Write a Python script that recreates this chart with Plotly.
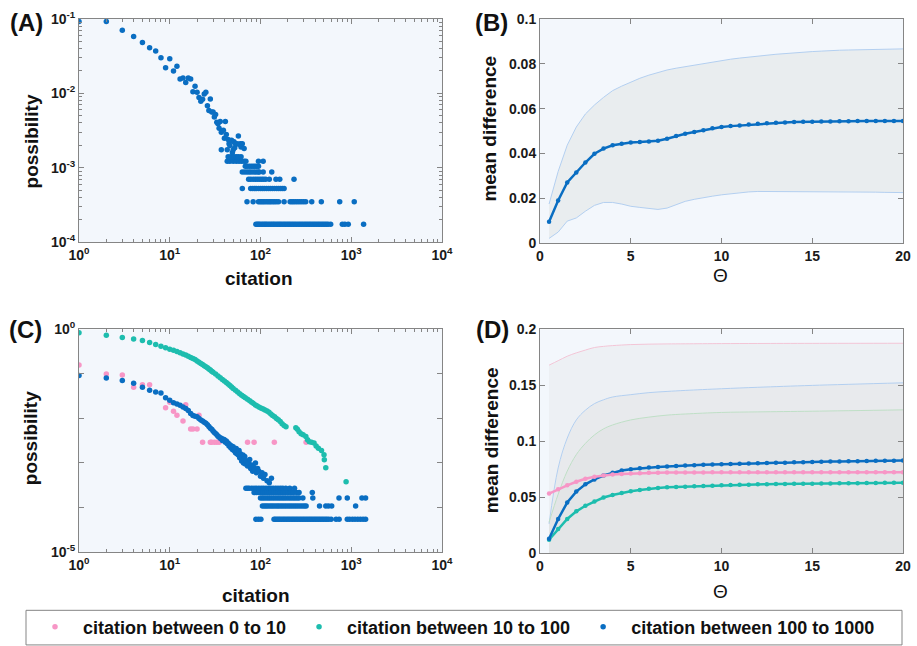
import plotly.graph_objects as go

# ---------------- data ----------------
# Panel A: citation distribution (probability), upper noisy part
a_cit = [1, 2, 3, 4, 5, 6, 7, 8, 9, 10, 11, 12, 13, 14, 15, 16, 17, 18, 19, 20,
         21, 22, 23, 24, 25, 26, 27, 28, 29, 30, 31, 32, 33, 34, 35, 36, 37, 39, 40,
         41, 42, 44, 45, 46, 48, 49, 51, 52, 53, 55, 57, 58, 60, 61, 63, 66]
a_prob = [0.092, 0.092, 0.070, 0.058, 0.048, 0.041, 0.037, 0.030, 0.022, 0.029,
          0.020, 0.023, 0.0155, 0.016, 0.014, 0.016, 0.0155, 0.0105, 0.0124, 0.0103,
          0.0088, 0.0078, 0.0083, 0.0098, 0.0103, 0.0068, 0.0059, 0.0084, 0.0056, 0.0056,
          0.0048, 0.0052, 0.0041, 0.0039, 0.0034, 0.0042, 0.0030, 0.0032, 0.0025,
          0.0042, 0.0028, 0.0024, 0.0021, 0.0020, 0.00234, 0.0016, 0.00224, 0.00186,
          0.0021, 0.0021, 0.00268, 0.00207, 0.0021, 0.0019, 0.0021, 0.00182]
# Panel A: low-count rows (count / total)
a_total = 5700
a_row_counts = [1, 2, 3, 4, 5, 6, 7, 8, 10]
a_row_cits = [
    [89, 92, 95, 98, 102, 106, 110, 114, 118, 123, 128, 133, 138, 143, 149, 155, 161,
     167, 174, 181, 188, 196, 204, 212, 221, 230, 240, 250, 261, 272, 284, 296, 309,
     322, 336, 350, 365, 381, 397, 414, 432, 450, 470, 490, 511, 533, 556, 593, 797,
     850, 927, 1368],
    [71, 83, 95, 99, 103, 107, 111, 116, 121, 126, 131, 137, 143, 150, 158, 182, 212,
     222, 232, 243, 255, 268, 282, 298, 315, 367, 468, 746, 1079],
    [63, 78, 82, 86, 90, 95, 100, 105, 110, 116, 122, 128, 135, 142, 150, 158, 166,
     174, 182],
    [74, 78, 83, 88, 93, 98, 103, 108, 114, 125, 148, 163, 234],
    [63, 67, 71, 75, 79, 84, 89, 94, 97, 107, 133],
    [68, 71, 75, 79, 83, 87, 91, 95],
    [43, 46, 50, 54, 58, 62, 66, 69, 95, 107],
    [44, 47, 51, 54, 57, 61],
    [37, 43, 50],
]

# Panel B: mean difference vs Theta
theta = [0.5, 1, 1.5, 2, 2.5, 3, 3.5, 4, 4.5, 5, 5.5, 6, 6.5, 7, 7.5, 8, 8.5, 9, 9.5, 10,
         10.5, 11, 11.5, 12, 12.5, 13, 13.5, 14, 14.5, 15, 15.5, 16, 16.5, 17, 17.5, 18,
         18.5, 19, 19.5, 20]
b_mean = [0.0096, 0.0191, 0.0271, 0.0316, 0.0360, 0.0399, 0.0422, 0.0437, 0.0444, 0.0449,
          0.0451, 0.0454, 0.0457, 0.0466, 0.0478, 0.0488, 0.0496, 0.0504, 0.0512, 0.0518,
          0.0522, 0.0525, 0.0529, 0.0532, 0.0535, 0.0537, 0.0538, 0.0540, 0.0541, 0.0542,
          0.0543, 0.0543, 0.0544, 0.0544, 0.0545, 0.0545, 0.0545, 0.0545, 0.0545, 0.0545]
b_upper = [0.0175, 0.032, 0.0437, 0.0518, 0.0576, 0.0616, 0.065, 0.068, 0.070, 0.0719,
           0.0735, 0.0749, 0.0761, 0.0772, 0.0780, 0.0787, 0.0794, 0.0800, 0.0808, 0.0815,
           0.0820, 0.0825, 0.0830, 0.0834, 0.0838, 0.0842, 0.0845, 0.0849, 0.0851, 0.0854,
           0.0856, 0.0859, 0.0860, 0.0861, 0.0862, 0.0863, 0.0864, 0.0865, 0.0866, 0.0866]
b_lower = [0.0022, 0.0050, 0.0099, 0.0113, 0.0143, 0.0169, 0.0182, 0.0182, 0.0175, 0.0165,
           0.0160, 0.0157, 0.0151, 0.0157, 0.0172, 0.0187, 0.0196, 0.0204, 0.0210, 0.0216,
           0.0221, 0.0226, 0.0229, 0.0231, 0.0231, 0.0231, 0.0231, 0.0231, 0.0231, 0.0231,
           0.0231, 0.0231, 0.0230, 0.0230, 0.0229, 0.0229, 0.0228, 0.0227, 0.0226, 0.0226]

# Panel C: distributions by citation group
c_pink_cit = [1, 2, 3, 4, 5, 6, 9, 10, 11, 12, 14, 15, 17, 18, 20, 21, 23, 28, 29, 31, 33,
              35, 72, 85, 142, 318]
c_pink_prob = [0.158, 0.100, 0.095, 0.050, 0.057, 0.057, 0.0174, 0.0232, 0.0145, 0.0118,
               0.0087, 0.0204, 0.0058, 0.0058, 0.0058, 0.0118, 0.0029, 0.0029, 0.0029,
               0.0029, 0.0029, 0.0029, 0.0029, 0.0029, 0.0029, 0.0029]
c_green_cit = [1, 2, 3, 4, 5, 6, 7, 8, 9, 10, 11, 12, 13, 14, 15, 16, 17, 18, 19, 20, 21,
               22, 23, 24, 25, 26, 27, 28, 29, 30, 32, 34, 36, 38, 40, 42, 44, 46, 48, 50,
               53, 56, 59, 62, 65, 68, 72, 76, 80, 84, 88, 92, 97, 102, 107, 112, 118, 124,
               130, 136, 143, 150, 157, 165, 173, 182, 191, 245, 255, 266, 280, 295, 316,
               330, 345, 365, 389, 410, 434, 470, 501, 505, 524, 877]
c_green_prob = [0.84, 0.74, 0.66, 0.61, 0.56, 0.51, 0.46, 0.42, 0.385, 0.36, 0.34, 0.32,
                0.30, 0.28, 0.265, 0.25, 0.235, 0.222, 0.21, 0.195, 0.183, 0.172, 0.162,
                0.153, 0.145, 0.137, 0.129, 0.122, 0.115, 0.109, 0.099, 0.090, 0.082,
                0.075, 0.069, 0.064, 0.059, 0.055, 0.051, 0.047, 0.043, 0.039, 0.036,
                0.033, 0.031, 0.029, 0.027, 0.025, 0.023, 0.0215, 0.020, 0.019, 0.0178,
                0.0170, 0.0162, 0.0155, 0.0146, 0.0138, 0.0125, 0.0116, 0.0109, 0.0100,
                0.0093, 0.0085, 0.0076, 0.0069, 0.0065, 0.0062, 0.0057, 0.0050, 0.0045,
                0.0043, 0.0039, 0.0033, 0.0030, 0.0029, 0.0028, 0.0024, 0.00215, 0.0019,
                0.00153, 0.00118, 0.00078, 0.00038]
c_blue_cit = [1, 2, 3, 4, 5, 6, 7, 8, 9, 10, 11, 12, 13, 14, 15, 16, 17, 18, 19, 20, 21,
              22, 23, 24, 25, 26, 27, 28, 29, 30, 31, 32, 33, 34, 35, 36, 37, 38, 39, 40,
              41, 42, 43, 44, 45, 46, 47, 48, 49, 50, 51, 52, 53, 54, 55, 56, 57, 58, 59,
              60, 61, 62, 63, 64, 65, 66, 67, 68, 70, 72, 74, 76, 78, 80, 82, 84, 86, 88,
              90, 93, 96, 100, 104, 108, 112, 118, 125, 132]
c_blue_prob = [0.092, 0.081, 0.071, 0.062, 0.050, 0.043, 0.039, 0.037, 0.029, 0.0255,
               0.0226, 0.021, 0.0198, 0.018, 0.0167, 0.0150, 0.0129, 0.0117, 0.0112, 0.0109,
               0.0100, 0.0092, 0.0088, 0.0082, 0.0078, 0.0072, 0.0066, 0.0060, 0.0057,
               0.0052, 0.0048, 0.0046, 0.0043, 0.0040, 0.0038, 0.0036, 0.0036, 0.0032,
               0.0034, 0.0033, 0.0029, 0.0031, 0.0027, 0.0028, 0.0024, 0.00255, 0.0022,
               0.0024, 0.0020, 0.0023, 0.0019, 0.0020, 0.0017, 0.0021, 0.0016, 0.0018,
               0.0015, 0.0019, 0.0013, 0.0016, 0.0014, 0.0011, 0.0013, 0.0015, 0.0010,
               0.0012, 0.0014, 0.00095, 0.0011, 0.00085, 0.0010, 0.0012, 0.00075, 0.00090,
               0.00065, 0.00080, 0.00070, 0.00100, 0.00060, 0.00075, 0.00065, 0.00050,
               0.00060, 0.00045, 0.00055, 0.00040, 0.00036, 0.00045]
c_blue_total = 18500
c_blue_row_counts = [1, 2, 3, 4, 5]
c_blue_row_cits = [
    [89, 95, 101, 141, 146, 152, 158, 164, 171, 178, 185, 193, 201, 209, 218, 227, 236,
     246, 256, 267, 278, 290, 302, 315, 328, 342, 356, 371, 387, 403, 420, 438, 456,
     476, 496, 518, 540, 565, 600, 680, 735, 904, 960, 1030, 1100, 1180, 1260, 1350,
     1439],
    [105, 110, 115, 120, 126, 132, 138, 145, 152, 159, 167, 175, 184, 193, 203, 213,
     224, 236, 248, 261, 275, 290, 305, 318, 447, 524, 560, 609, 1117],
    [100, 105, 110, 116, 122, 128, 135, 142, 150, 158, 166, 175, 184, 194, 205, 216,
     228, 240, 253, 266, 293, 377, 733, 904, 1312, 1439],
    [85, 90, 95, 100, 106, 112, 118, 125, 132, 140, 148, 157, 166, 176, 187, 200, 215,
     230, 250, 266, 372],
    [69, 72, 75, 80, 85, 90, 96, 102, 108, 115, 122, 130, 138, 147, 156, 166, 176, 190,
     210, 237],
]

# Panel D: mean difference by group
d_pink = [0.0531, 0.0569, 0.0605, 0.0637, 0.0664, 0.0681, 0.0693, 0.0702, 0.0707, 0.0711,
          0.0714, 0.0717, 0.0718, 0.0719, 0.0719, 0.0720, 0.0720, 0.0720, 0.0721, 0.0721,
          0.0721, 0.0721, 0.0722, 0.0722, 0.0722, 0.0722, 0.0722, 0.0722, 0.0722, 0.0722,
          0.0723, 0.0723, 0.0723, 0.0723, 0.0723, 0.0723, 0.0723, 0.0723, 0.0723, 0.0723]
d_green = [0.0118, 0.0215, 0.0304, 0.0372, 0.0422, 0.0460, 0.0496, 0.0519, 0.0537, 0.0552,
           0.0564, 0.0575, 0.0581, 0.0587, 0.0590, 0.0593, 0.0596, 0.0599, 0.0602, 0.0605,
           0.0607, 0.0609, 0.0611, 0.0614, 0.0615, 0.0616, 0.0617, 0.0619, 0.0620, 0.0620,
           0.0621, 0.0622, 0.0623, 0.0623, 0.0624, 0.0625, 0.0626, 0.0627, 0.0627, 0.0628]
d_blue = [0.0127, 0.0304, 0.0451, 0.0549, 0.0614, 0.0658, 0.0693, 0.0717, 0.0737, 0.0749,
          0.0757, 0.0764, 0.0769, 0.0773, 0.0778, 0.0782, 0.0785, 0.0788, 0.0791, 0.0794,
          0.0796, 0.0798, 0.0800, 0.0802, 0.0804, 0.0806, 0.0808, 0.0811, 0.0812, 0.0814,
          0.0815, 0.0817, 0.0818, 0.0820, 0.0821, 0.0823, 0.0824, 0.0825, 0.0825, 0.0826]
d_band_theta = [0.5, 1, 1.5, 2, 2.5, 3, 3.5, 4, 5, 6, 7, 8, 10, 12, 15, 20]
d_pink_upper = [0.168, 0.172, 0.176, 0.179, 0.1815, 0.1838, 0.1848, 0.1855, 0.1864, 0.1868,
                0.187, 0.1871, 0.1873, 0.1874, 0.1875, 0.1876]
d_blue_upper = [0.026, 0.076, 0.1027, 0.119, 0.1277, 0.1336, 0.137, 0.1395, 0.1416, 0.1434,
                0.1445, 0.1454, 0.1469, 0.1482, 0.1499, 0.1522]
d_green_upper = [0.0274, 0.0525, 0.0732, 0.088, 0.098, 0.1056, 0.111, 0.1145, 0.119, 0.1215,
                 0.1233, 0.1243, 0.1257, 0.1262, 0.1268, 0.128]
d_band_lower = [0] * len(d_band_theta)

legend_names = ["citation between 0 to 10", "citation between 10 to 100",
                "citation between 100 to 1000"]
log_tick_text = ["10<sup>0</sup>", "10<sup>1</sup>", "10<sup>2</sup>",
                 "10<sup>3</sup>", "10<sup>4</sup>"]

# ---------------- style ----------------
W, H = 917, 646
FONT = "Liberation Sans"
BLUE = "#0a6ec2"
GREEN = "#1dbdae"
PINK = "#f796c6"
AXC = "#858585"
BAND_FILL = "rgba(185,188,180,0.17)"
D_FILL = "rgba(188,188,184,0.11)"


def px(x):
    return x / W


def py(y):
    return 1 - y / H


fig = go.Figure()

# ---- Panel A ----
fig.add_trace(go.Scatter(x=a_cit, y=a_prob, mode="markers", xaxis="x", yaxis="y",
                         marker=dict(color=BLUE, size=5.5), showlegend=False))
for cnt, cits in zip(a_row_counts, a_row_cits):
    fig.add_trace(go.Scatter(x=cits, y=[cnt / a_total] * len(cits), mode="markers",
                             xaxis="x", yaxis="y", marker=dict(color=BLUE, size=5.5),
                             showlegend=False))

# ---- Panel B ----
fig.add_trace(go.Scatter(x=theta + theta[::-1], y=b_upper + b_lower[::-1], fill="toself",
                         fillcolor=BAND_FILL, line=dict(width=0), mode="lines",
                         xaxis="x2", yaxis="y2", showlegend=False, hoverinfo="skip"))
for band in (b_upper, b_lower):
    fig.add_trace(go.Scatter(x=theta, y=band, mode="lines", xaxis="x2", yaxis="y2",
                             line=dict(color="#b3cff0", width=1), showlegend=False))
fig.add_trace(go.Scatter(x=theta, y=b_mean, mode="lines+markers", xaxis="x2", yaxis="y2",
                         line=dict(color=BLUE, width=2.5),
                         marker=dict(color=BLUE, size=4.5), showlegend=False))

# ---- Panel C ----
fig.add_trace(go.Scatter(x=c_pink_cit, y=c_pink_prob, mode="markers", xaxis="x3", yaxis="y3",
                         marker=dict(color=PINK, size=5.5), name=legend_names[0],
                         legendgroup="g0", showlegend=True))
fig.add_trace(go.Scatter(x=c_green_cit, y=c_green_prob, mode="markers", xaxis="x3",
                         yaxis="y3", marker=dict(color=GREEN, size=5.5),
                         name=legend_names[1], legendgroup="g1", showlegend=True))
fig.add_trace(go.Scatter(x=c_blue_cit, y=c_blue_prob, mode="markers", xaxis="x3", yaxis="y3",
                         marker=dict(color=BLUE, size=5.5), name=legend_names[2],
                         legendgroup="g2", showlegend=True))
for cnt, cits in zip(c_blue_row_counts, c_blue_row_cits):
    fig.add_trace(go.Scatter(x=cits, y=[cnt / c_blue_total] * len(cits), mode="markers",
                             xaxis="x3", yaxis="y3", marker=dict(color=BLUE, size=5.5),
                             legendgroup="g2", showlegend=False))

# ---- Panel D ----
for upper, edge in ((d_pink_upper, "#f3c5d6"), (d_blue_upper, "#b3cff0"),
                    (d_green_upper, "#bfdfc6")):
    fig.add_trace(go.Scatter(x=d_band_theta + d_band_theta[::-1],
                             y=upper + d_band_lower[::-1], fill="toself",
                             fillcolor=D_FILL, line=dict(width=0),
                             mode="lines", xaxis="x4", yaxis="y4", showlegend=False,
                             hoverinfo="skip"))
    fig.add_trace(go.Scatter(x=d_band_theta, y=upper, mode="lines", xaxis="x4", yaxis="y4",
                             line=dict(color=edge, width=1, shape="spline"),
                             showlegend=False))
for series, col in ((d_green, GREEN), (d_blue, BLUE), (d_pink, PINK)):
    fig.add_trace(go.Scatter(x=theta, y=series, mode="lines+markers", xaxis="x4", yaxis="y4",
                             line=dict(color=col, width=2.5), marker=dict(color=col, size=4.5),
                             showlegend=False))

# ---------------- axes ----------------
tickfont = dict(family=FONT, size=14, color="#1a1a1a", weight="bold")
common = dict(showline=True, linecolor=AXC, linewidth=1, mirror="ticks", ticks="inside",
              ticklen=5, tickcolor=AXC, showgrid=False, zeroline=False, tickfont=tickfont,
              automargin=False)

minor_x = [k * 10 ** d for d in range(0, 4) for k in range(2, 10)]
minor_ya = [k * 10 ** d for d in range(-4, -1) for k in range(2, 10)]

dom_left = [px(79), px(442)]
dom_right = [px(540), px(903)]

fig.update_layout(
    xaxis=dict(common, type="log", range=[0, 4], domain=dom_left, anchor="y",
               tickvals=[1, 10, 100, 1000, 10000], ticktext=log_tick_text,
               minor=dict(ticks="inside", ticklen=3, tickcolor=AXC, tickmode="array",
                          tickvals=minor_x)),
    yaxis=dict(common, type="log", range=[-4, -1], domain=[py(245), py(19)], anchor="x",
               tickvals=[1e-4, 1e-3, 1e-2, 1e-1],
               ticktext=["10<sup>-4</sup>", "10<sup>-3</sup>", "10<sup>-2</sup>",
                         "10<sup>-1</sup>"],
               minor=dict(ticks="inside", ticklen=3, tickcolor=AXC, tickmode="array",
                          tickvals=minor_ya)),
    xaxis2=dict(common, range=[0, 20], domain=dom_right, anchor="y2",
                tickvals=[0, 5, 10, 15, 20]),
    yaxis2=dict(common, range=[0, 0.1], domain=[py(246), py(19)], anchor="x2",
                tickvals=[0, 0.02, 0.04, 0.06, 0.08, 0.1],
                ticktext=["0", "0.02", "0.04", "0.06", "0.08", "0.1"]),
    xaxis3=dict(common, type="log", range=[0, 4], domain=dom_left, anchor="y3",
                tickvals=[1, 10, 100, 1000, 10000], ticktext=log_tick_text,
                minor=dict(ticks="inside", ticklen=3, tickcolor=AXC, tickmode="array",
                           tickvals=minor_x)),
    yaxis3=dict(common, type="log", range=[-5, 0], domain=[py(558), py(333)], anchor="x3",
                tickvals=[1e-5, 1e-4, 1e-3, 1e-2, 1e-1, 1],
                ticktext=["10<sup>-5</sup>", " ", " ", " ", " ", "10<sup>0</sup>"]),
    xaxis4=dict(common, range=[0, 20], domain=dom_right, anchor="y4",
                tickvals=[0, 5, 10, 15, 20]),
    yaxis4=dict(common, range=[0, 0.2], domain=[py(559), py(333)], anchor="x4",
                tickvals=[0, 0.05, 0.1, 0.15, 0.2],
                ticktext=["0", "0.05", "0.1", "0.15", "0.2"]),
)

# ---------------- annotations ----------------
ann = []


def label(text, x, y, size, bold=True, angle=0):
    ann.append(dict(text=text, x=px(x), y=py(y), xref="paper", yref="paper",
                    xanchor="center", yanchor="middle", showarrow=False, textangle=angle,
                    font=dict(family=FONT, size=size, color="#111111",
                              weight="bold" if bold else "normal")))


label("(A)", 26, 23, 24)
label("(B)", 491, 23, 24)
label("(C)", 25, 333, 24)
label("(D)", 492, 333, 24)
label("citation", 259, 282, 19)
label("citation", 256, 602, 19)
label("possibility", 31, 143, 19, angle=-90)
label("possibility", 30, 443, 19, angle=-90)
label("mean difference", 490, 130, 19, angle=-90)
label("mean difference", 491, 445, 19, angle=-90)
label("Θ", 720, 279, 19, bold=False)
label("Θ", 720, 598, 19, bold=False)

fig.update_layout(
    width=W, height=H, margin=dict(l=0, r=0, t=0, b=0),
    paper_bgcolor="white", plot_bgcolor="#f3f7fc",
    font=dict(family=FONT, color="#111111"),
    annotations=ann,
    shapes=[dict(type="rect", xref="paper", yref="paper", x0=px(26), x1=px(902),
                 y0=py(652), y1=py(617), line=dict(color=AXC, width=1),
                 fillcolor="rgba(0,0,0,0)", layer="above")],
    legend=dict(orientation="h", x=px(27), y=py(634), xanchor="left", yanchor="middle",
                bgcolor="rgba(0,0,0,0)", borderwidth=0, itemwidth=46,
                font=dict(family=FONT, size=18, color="#111111", weight="bold")),
)

fig.write_html("out.html", config={"displayModeBar": False},
               post_script="document.body.style.margin='0';document.body.style.overflow='hidden';")
